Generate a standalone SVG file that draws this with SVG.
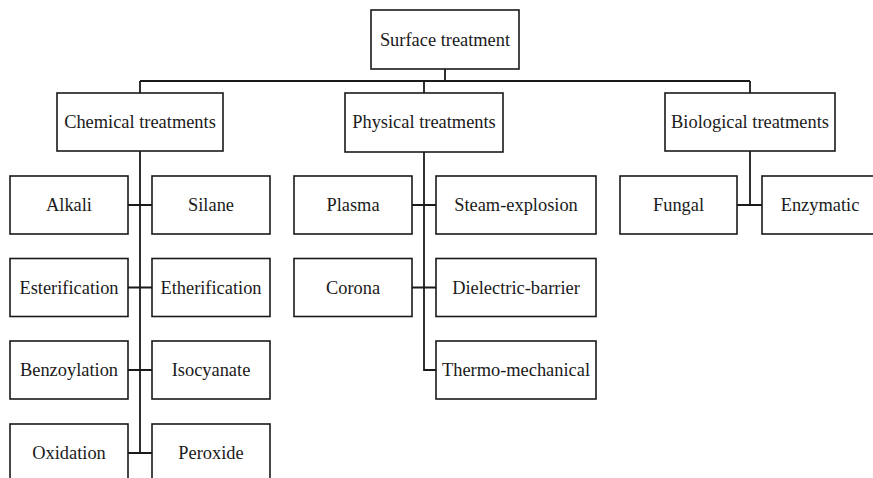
<svg xmlns="http://www.w3.org/2000/svg" width="873" height="478" viewBox="0 0 873 478">
<style>
rect{fill:#fff;stroke:#1a1a1a;stroke-width:1.6}
text{font-family:"Liberation Serif","Times New Roman",serif;font-size:18.4px;fill:#1a1a1a;text-anchor:middle}
.c path{fill:none;stroke:#1a1a1a;stroke-width:1.8}
</style>
<rect x="0" y="0" width="873" height="478" style="stroke:none"/>
<g class="c" id="connectors">
<path d="M445,69V81M140,81H750M140,81V93M424,81V93M750,81V93"/>
<path d="M140,151V453M128,205H152M128,287.5H152M128,370H152M128,453H152"/>
<path d="M424,152V370H436M412,205H436M412,287.5H436"/>
<path d="M750,151V205M737,205H762"/>
</g>
<g id="surface"><rect x="371" y="10" width="148" height="59"/><text x="445" y="46">Surface treatment</text></g>
<g id="chemical"><rect x="57" y="93" width="166" height="58"/><text x="140" y="128">Chemical treatments</text></g>
<g id="physical"><rect x="345" y="93" width="158" height="59"/><text x="424" y="128">Physical treatments</text></g>
<g id="biological"><rect x="665" y="93" width="170" height="58"/><text x="750" y="128">Biological treatments</text></g>
<g id="alkali"><rect x="10" y="176" width="118" height="58"/><text x="69" y="211">Alkali</text></g>
<g id="silane"><rect x="152" y="176" width="118" height="58"/><text x="211" y="211">Silane</text></g>
<g id="esterification"><rect x="10" y="258.5" width="118" height="58"/><text x="69" y="293.5">Esterification</text></g>
<g id="etherification"><rect x="152" y="258.5" width="118" height="58"/><text x="211" y="293.5">Etherification</text></g>
<g id="benzoylation"><rect x="10" y="341" width="118" height="58"/><text x="69" y="376">Benzoylation</text></g>
<g id="isocyanate"><rect x="152" y="341" width="118" height="58"/><text x="211" y="376">Isocyanate</text></g>
<g id="oxidation"><rect x="10" y="424" width="118" height="60"/><text x="69" y="459">Oxidation</text></g>
<g id="peroxide"><rect x="152" y="424" width="118" height="60"/><text x="211" y="459">Peroxide</text></g>
<g id="plasma"><rect x="294" y="176" width="118" height="58"/><text x="353" y="211">Plasma</text></g>
<g id="steam"><rect x="436" y="176" width="160" height="58"/><text x="516" y="211">Steam-explosion</text></g>
<g id="corona"><rect x="294" y="258.5" width="118" height="58"/><text x="353" y="293.5">Corona</text></g>
<g id="dielectric"><rect x="436" y="258.5" width="160" height="58"/><text x="516" y="293.5">Dielectric-barrier</text></g>
<g id="thermo"><rect x="436" y="341" width="160" height="58"/><text x="516" y="376">Thermo-mechanical</text></g>
<g id="fungal"><rect x="620" y="176" width="117" height="58"/><text x="678.5" y="211">Fungal</text></g>
<g id="enzymatic"><rect x="762" y="176" width="118" height="58"/><text x="820" y="211">Enzymatic</text></g>
</svg>
